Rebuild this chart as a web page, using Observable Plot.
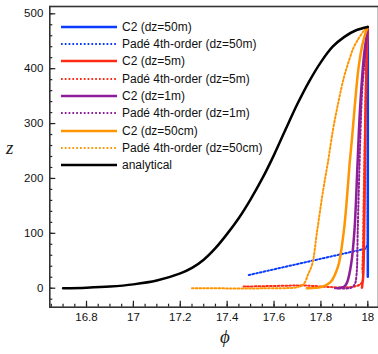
<!DOCTYPE html>
<html>
<head>
<meta charset="utf-8">
<script src="https://cdn.jsdelivr.net/npm/d3@7"></script>
<script src="https://cdn.jsdelivr.net/npm/@observablehq/plot@0.6"></script>
<style>
  html, body { margin: 0; padding: 0; background: #fff; }
  #wrap { position: relative; width: 378px; height: 354px; overflow: hidden; font-family: "Liberation Sans", Arial, sans-serif; }
  #legend { position: absolute; left: 61px; top: 18px; }
  .row { position: relative; height: 17.34px; display: flex; align-items: center; }
  .row svg { width: 56px; height: 6px; margin-right: 5px; }
  .row span { font-size: 12px; color: #111; white-space: nowrap; line-height: 1; }
  .lab { position: absolute; font-family: "Liberation Serif", "DejaVu Serif", serif; font-style: italic; color: #222; }
</style>
</head>
<body>
<div id="wrap"></div>
<script>
// ---- data ----
const analyticalPhi = [16.7, 16.8, 16.9, 17.0, 17.1, 17.2, 17.25, 17.3, 17.35, 17.4, 17.45, 17.5, 17.55, 17.6, 17.65, 17.7, 17.75, 17.8, 17.85, 17.9, 17.95, 18.0];
const analyticalZ   = [0,    1,    3,    7,    14,   27,   37,    52,   73,    99,   128,   162,  200,   243,  290,   336,  377,   412,  440,   458,  470,   476];

const c2_50m_phi = [18.0, 18.0];
const c2_50m_z   = [21,   476];
const pade_50m_phi = [17.492, 17.99, 18.0, 18.0];
const pade_50m_z   = [24,     72,    80,   476];

const c2_5m_phi = [17.975, 17.98, 17.983, 17.986, 17.99, 17.995, 18.0];
const c2_5m_z   = [1,      20,    60,     150,    300,   420,    476];
const pade_5m_phi = [17.47, 17.7, 17.97, 17.977, 17.982, 17.988, 17.995, 18.0];
const pade_5m_z   = [3,     5,    8,     40,     150,    300,    430,    476];

const c2_1m_phi = [17.87, 17.9, 17.912, 17.929, 17.943, 17.955, 17.962, 17.969, 17.983, 18.0];
const c2_1m_z   = [0,     3,    11,     44,     105,    215,    287,    342,    421,    476];
const pade_1m_phi = [17.86, 17.93, 17.945, 17.952, 17.957, 17.962, 17.969, 17.976, 17.99, 18.0];
const pade_1m_z   = [0,     1,     8,      25,     105,    185,    287,    360,    430,   476];

const c2_50cm_phi = [17.74, 17.8, 17.841, 17.86, 17.876, 17.898, 17.912, 17.922, 17.933, 17.945, 17.96, 17.975, 17.99, 18.0];
const c2_50cm_z   = [0,     2,    11,     25,    44,     105,    170,    225,    275,    335,    400,   440,    465,   476];
const pade_50cm_phi = [17.25, 17.6, 17.7, 17.727, 17.745, 17.763, 17.784, 17.81, 17.83, 17.852, 17.875, 17.898, 17.92, 17.94, 17.965, 17.985, 18.0];
const pade_50cm_z   = [0,     0,    2,    8,      25,     44,     105,    180,   230,   290,    340,    384,    415,   439,   458,    470,    476];

const seriesNames = ["C2 (dz=50m)", "Padé 4th-order (dz=50m)", "C2 (dz=5m)", "Padé 4th-order (dz=5m)",
                     "C2 (dz=1m)", "Padé 4th-order (dz=1m)", "C2 (dz=50cm)", "Padé 4th-order (dz=50cm)", "analytical"];
const seriesColors = ["#0a3cff", "#0a3cff", "#ff2a14", "#ff2a14", "#8e1e98", "#8e1e98", "#ff9500", "#ff9500", "#000000"];
const seriesDotted = [false, true, false, true, false, true, false, true, false];
const seriesPhi = [c2_50m_phi, pade_50m_phi, c2_5m_phi, pade_5m_phi, c2_1m_phi, pade_1m_phi, c2_50cm_phi, pade_50cm_phi, analyticalPhi];
const seriesZ   = [c2_50m_z, pade_50m_z, c2_5m_z, pade_5m_z, c2_1m_z, pade_1m_z, c2_50cm_z, pade_50cm_z, analyticalZ];

const xMajor = [16.8, 17, 17.2, 17.4, 17.6, 17.8, 18];
const xMinor = d3.range(16.65, 18.001, 0.05).map(v => +v.toFixed(2));
const yMajor = [0, 100, 200, 300, 400, 500];
const yMinor = d3.range(-20, 501, 20);

// ---- layout ----
const W = 378, H = 354;
const mL = 49.3, mR = 0, mT = 6, mB = 47.3;
const plotW = W - mL - mR, plotH = H - mT - mB;
const DASH = "1.7,2.1";

const marks = [];
seriesNames.forEach((name, i) => {
  const data = seriesPhi[i].map((p, j) => ({phi: p, z: seriesZ[i][j]}));
  const linear = i < 2;
  marks.push(Plot.line(data, {
    x: "phi", y: "z",
    stroke: seriesColors[i],
    strokeWidth: seriesDotted[i] ? 2 : 2.5,
    strokeDasharray: seriesDotted[i] ? DASH : null,
    curve: linear ? "linear" : "catmull-rom"
  }));
});

const chart = Plot.plot({
  width: W, height: H,
  marginLeft: mL, marginRight: mR, marginTop: mT, marginBottom: mB,
  style: {fontFamily: "'Liberation Sans', Arial, sans-serif", fontSize: "11.5px", color: "#111", background: "#fff"},
  x: {domain: [16.6434, 18.0456]},
  y: {domain: [-34.6, 513.3]},
  marks: [
    ...marks,
    Plot.tickX(xMajor, {x: d => d, insetTop: plotH - 6, stroke: "#222", strokeWidth: 1.2}),
    Plot.tickX(xMinor, {x: d => d, insetTop: plotH - 3, stroke: "#222", strokeWidth: 1.2}),
    Plot.tickY(yMajor, {y: d => d, insetRight: plotW - 6, stroke: "#222", strokeWidth: 1.2}),
    Plot.tickY(yMinor, {y: d => d, insetRight: plotW - 3, stroke: "#222", strokeWidth: 1.2}),
    Plot.axisX({ticks: xMajor, tickSize: 0, tickPadding: 6, label: null, tickFormat: d => String(d)}),
    Plot.axisY({ticks: yMajor, tickSize: 0, tickPadding: 6.5, label: null}),
    Plot.frame({stroke: "#333", strokeWidth: 1.6})
  ]
});

const wrap = document.getElementById("wrap");
wrap.appendChild(chart);

// legend
const legend = document.createElement("div");
legend.id = "legend";
seriesNames.forEach((name, i) => {
  const row = document.createElement("div");
  row.className = "row";
  const dash = seriesDotted[i] ? ` stroke-dasharray="${DASH}"` : '';
  row.innerHTML = `<svg viewBox="0 0 56 6"><line x1="0" y1="3" x2="56" y2="3" stroke="${seriesColors[i]}" stroke-width="${seriesDotted[i] ? 2 : 2.4}"${dash}/></svg><span>${name}</span>`;
  legend.appendChild(row);
});
wrap.appendChild(legend);

// axis labels
const zl = document.createElement("div");
zl.className = "lab"; zl.textContent = "z";
zl.style.cssText = "left:6px; top:137px; font-size:19px;";
wrap.appendChild(zl);
const pl = document.createElement("div");
pl.className = "lab"; pl.textContent = "ϕ";
pl.style.cssText = "left:220px; top:326px; font-size:19px;";
wrap.appendChild(pl);
</script>
</body>
</html>
